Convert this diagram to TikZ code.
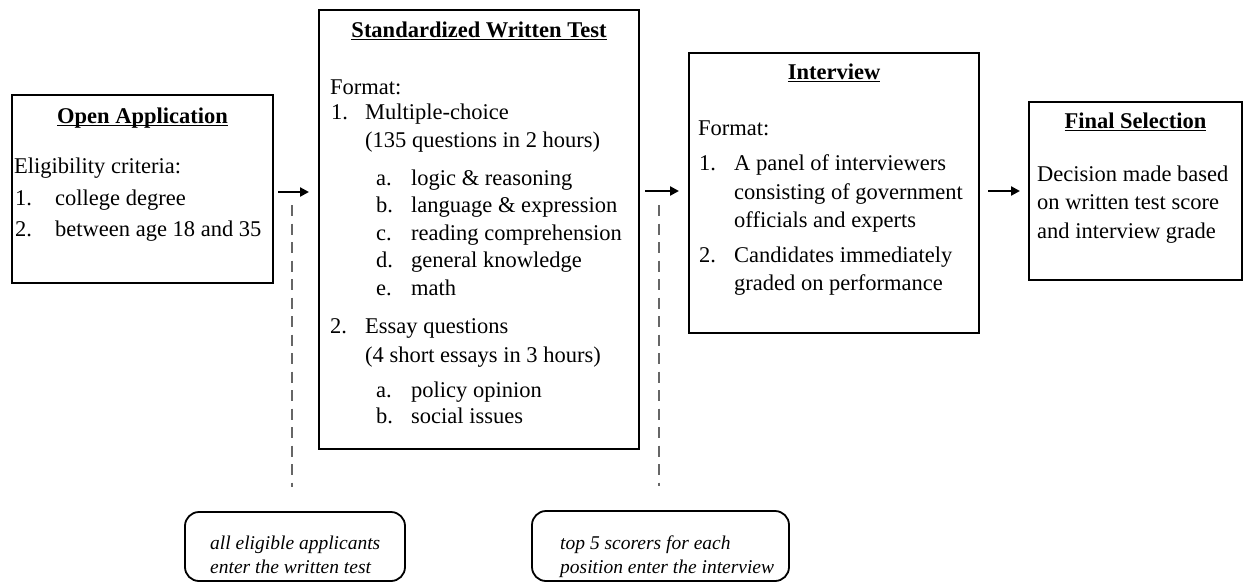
\documentclass[tikz,border=0pt]{standalone}
\usepackage{fontspec}
\setmainfont{Liberation Serif}
\usetikzlibrary{arrows.meta}
\newsavebox\ttlbox
\newcommand\ttlul[1]{\sbox\ttlbox{#1}\rlap{\rule[-3pt]{\wd\ttlbox}{1.3pt}}\usebox\ttlbox}
\begin{document}
\begin{tikzpicture}[x=1pt,y=-1pt,
  box/.style={draw, line width=2pt, inner sep=0pt},
  txt/.style={anchor=base west, inner sep=0pt, font=\fontsize{22.5}{28}\selectfont},
  ttl/.style={anchor=base, inner sep=0pt, font=\fontsize{22.5}{28}\selectfont\bfseries},
  flow/.style={line width=2.6pt, -{Triangle[length=9pt,width=9pt]}},
  sep/.style={draw=black!60, line width=2.6pt, dash pattern=on 11pt off 7.5pt},
  note/.style={draw, line width=1.8pt, rounded corners=14pt, inner sep=0pt},
  ntxt/.style={anchor=base west, inner sep=0pt, font=\fontsize{19.5}{24}\selectfont\itshape}]
\useasboundingbox (0,0) rectangle (1243,582);

% boxes
\node[box, minimum width=261pt, minimum height=188pt] (A) at (142.5,189) {};
\node[box, minimum width=320pt, minimum height=439pt] (B) at (479,229.5) {};
\node[box, minimum width=290pt, minimum height=280pt] (C) at (834,193) {};
\node[box, minimum width=213pt, minimum height=178pt] (D) at (1135.5,191) {};
\node[note, minimum width=220pt, minimum height=69pt] (N1) at (295,546.5) {};
\node[note, minimum width=257pt, minimum height=70pt] (N2) at (660.5,546) {};

% box A text
\node[ttl] (A0) at (142.5,123) {\ttlul{Open Application}};
\node[txt] (A1) at (14,173) {Eligibility criteria:};
\node[txt] (A2n) at (15,205) {1.};
\node[txt] (A2) at (55,205) {college degree};
\node[txt] (A3n) at (15,236) {2.};
\node[txt] (A3) at (55,236) {between age 18 and 35};

% box B text
\node[ttl] (B0) at (479,37) {\ttlul{Standardized Written Test}};
\node[txt] (B1) at (330,94) {Format:};
\node[txt] (B2n) at (331,119) {1.};
\node[txt] (B2) at (365,119) {Multiple-choice};
\node[txt] (B3) at (365,147) {(135 questions in 2 hours)};
\node[txt] (B4n) at (376,185) {a.};
\node[txt] (B4) at (411,185) {logic \& reasoning};
\node[txt] (B5n) at (376,212.5) {b.};
\node[txt] (B5) at (411,212.5) {language \& expression};
\node[txt] (B6n) at (376,240) {c.};
\node[txt] (B6) at (411,240) {reading comprehension};
\node[txt] (B7n) at (376,267.5) {d.};
\node[txt] (B7) at (411,267.5) {general knowledge};
\node[txt] (B8n) at (376,295) {e.};
\node[txt] (B8) at (411,295) {math};
\node[txt] (B9n) at (330,333) {2.};
\node[txt] (B9) at (365,333) {Essay questions};
\node[txt] (B10) at (365,362) {(4 short essays in 3 hours)};
\node[txt] (B11n) at (376,397) {a.};
\node[txt] (B11) at (411,397) {policy opinion};
\node[txt] (B12n) at (376,423) {b.};
\node[txt] (B12) at (411,423) {social issues};

% box C text
\node[ttl] (C0) at (834,79) {\ttlul{Interview}};
\node[txt] (C1) at (698,135) {Format:};
\node[txt] (C2n) at (699,170) {1.};
\node[txt] (C2) at (734,170) {A panel of interviewers};
\node[txt] (C3) at (734,199) {consisting of government};
\node[txt] (C4) at (734,227) {officials and experts};
\node[txt] (C5n) at (699,262) {2.};
\node[txt] (C5) at (734,262) {Candidates immediately};
\node[txt] (C6) at (734,290) {graded on performance};

% box D text
\node[ttl] (D0) at (1135.5,128) {\ttlul{Final Selection}};
\node[txt] (D1) at (1037,181) {Decision made based};
\node[txt] (D2) at (1037,209.5) {on written test score};
\node[txt] (D3) at (1037,238) {and interview grade};

% notes text
\node[ntxt] (N1a) at (210,549) {all eligible applicants};
\node[ntxt] (N1b) at (210,573) {enter the written test};
\node[ntxt] (N2a) at (560,549) {top 5 scorers for each};
\node[ntxt] (N2b) at (560,573) {position enter the interview};

% arrows
\draw[flow, shorten <=4pt, shorten >=9pt] (A.east |- 0,192) -- (B.west |- 0,192);
\draw[flow, shorten <=5pt, shorten >=9pt] (B.east |- 0,191) -- (C.west |- 0,191);
\draw[flow, shorten <=8pt, shorten >=8pt] (C.east |- 0,191) -- (D.west |- 0,191);

% dashed separators
\coordinate (s1) at (292,205);
\coordinate (s2) at (659,205);
\draw[sep, shorten >=24pt] (s1) -- (s1 |- N1.north);
\draw[sep, shorten >=24pt] (s2) -- (s2 |- N2.north);
\end{tikzpicture}
\end{document}
